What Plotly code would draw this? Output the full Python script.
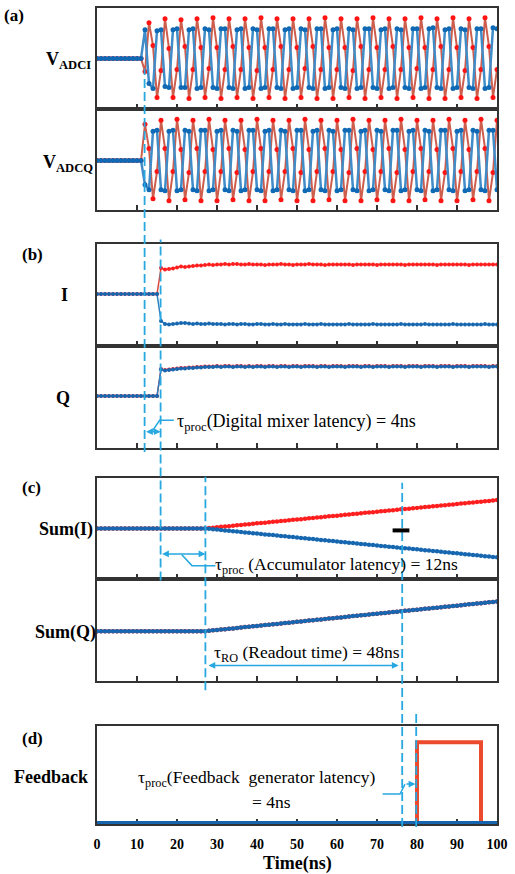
import plotly.graph_objects as go

# ---------------- data (arbitrary units) ----------------
time_ns = list(range(0, 101))

# (a) ADC samples, I channel
adc_i_red = [0] * 12 + [
    -13, 36, 13, -39, -12, 40, 10, -39, -11, 39, 12, -40, -11, 40, 11, -39,
    -10, 41, 11, -40, -11, 40, 12, -39, -11, 40, 11, -40, -12, 41, 11, -39,
    -11, 40, 12, -40, -11, 40, 11, -39, -10, 40, 12, -40, -11, 41, 11, -40,
    -11, 40, 11, -39, -12, 40, 12, -40, -11, 41, 11, -39, -11, 40, 12, -40,
    -11, 40, 11, -39, -10, 41, 11, -40, -11, 40, 12, -40, -11, 41, 11, -39,
    -12, 40, 11, -40, -11, 41, 12, -39, -11]
adc_i_blue = [0] * 12 + [
    29, -25, -30, 28, 29, -28, -29, 29, 30, -29, -29, 29, 30, -30, -29, 30,
    29, -29, -30, 30, 30, -29, -30, 29, 30, -30, -29, 30, 29, -30, -29, 30,
    30, -29, -30, 29, 30, -30, -29, 30, 29, -29, -30, 30, 30, -30, -29, 29,
    30, -29, -30, 30, 29, -30, -29, 30, 30, -29, -30, 29, 30, -30, -29, 30,
    29, -29, -30, 30, 30, -30, -29, 30, 31, -29, -30, 29, 30, -30, -29, 30,
    29, -29, -30, 30, 30, -30, -29, 31, 30]
# (a) ADC samples, Q channel
adc_q_red = [0] * 12 + [
    36, 12, -38, -11, 40, 12, -40, -11, 41, 11, -39, -12, 40, 12, -40, -11,
    41, 11, -40, -11, 40, 12, -39, -12, 40, 11, -40, -11, 41, 12, -40, -11,
    40, 11, -39, -11, 40, 12, -40, -12, 41, 11, -40, -11, 40, 12, -39, -11,
    40, 11, -40, -12, 41, 12, -40, -11, 40, 11, -39, -11, 40, 12, -40, -12,
    41, 11, -40, -11, 40, 12, -39, -11, 40, 11, -40, -12, 41, 12, -40, -11,
    40, 11, -39, -11, 41, 12, -40, -12, 40]
adc_q_blue = [0] * 12 + [
    -24, -29, 29, 30, -29, -30, 29, 30, -30, -29, 30, 29, -29, -30, 30, 30,
    -30, -29, 29, 30, -29, -30, 30, 29, -30, -29, 30, 30, -29, -30, 29, 30,
    -30, -29, 30, 29, -29, -30, 30, 30, -30, -29, 29, 30, -29, -30, 30, 29,
    -30, -29, 30, 30, -29, -30, 29, 30, -30, -29, 30, 29, -29, -30, 30, 30,
    -30, -29, 29, 30, -29, -30, 30, 29, -30, -29, 30, 30, -29, -30, 29, 30,
    -30, -29, 30, 29, -29, -30, 30, 30, -29]

# (b) mixer outputs
mix_i_red = [0] * 16 + [
    26, 24.5, 25, 25.5, 26.5, 27.5, 27, 27.5, 28, 28.5, 28.5, 29, 29.5, 29, 29.5,
    29.5, 30, 29.5, 30, 30, 29.5, 29.5, 30, 29.5, 29.5,
    29.5, 29, 29.5, 29.5, 29.5, 30, 29.5, 29.5, 29, 29.5,
    29.5, 29.5, 30, 29.5, 29.5, 29.5, 29, 29.5, 29.5, 29.5,
    29.5, 29.5, 29.5, 29, 29.5, 29.5, 29.5, 29.5, 29.5, 29,
    29.5, 29.5, 29.5, 29.5, 29.5, 29.5, 29, 29.5, 29.5, 29.5,
    29.5, 29.5, 29.5, 29.5, 29, 29.5, 29.5, 29.5, 29.5, 29.5,
    29.5, 29.5, 29, 29.5, 29.5, 29.5, 29.5, 29.5, 29.5, 29.5]
mix_i_blue = [0] * 16 + [
    -27, -30, -30.5, -30, -29.5, -29, -29, -29.5, -30, -29.5, -30, -30, -29.5, -30, -30,
    -30, -30.5, -30, -30, -30.5, -30, -30, -30.5, -30.5, -30,
    -30, -30.5, -30.5, -30, -30.5, -30.5, -30, -30.5, -30.5, -30.5,
    -30.5, -30, -30.5, -30.5, -30.5, -30, -30.5, -30.5, -30.5, -30.5,
    -30.5, -30.5, -30, -30.5, -30.5, -30.5, -30.5, -30.5, -30, -30.5,
    -30.5, -30.5, -30.5, -30.5, -30.5, -30, -30.5, -30.5, -30.5, -30.5,
    -30.5, -30, -30.5, -30.5, -30.5, -30.5, -30.5, -30.5, -30, -30.5,
    -30.5, -30.5, -30.5, -30.5, -30.5, -30.5, -30, -30.5, -30.5, -30.5]
mix_q_red = [0] * 16 + [
    27, 26, 26.5, 27, 27.5, 28, 28, 28.5, 28.5, 29, 29, 29.5, 29.5, 29.5, 30,
    29.5, 30, 30, 29.5, 30, 30, 29.5, 30, 29.5, 30,
    30, 29.5, 30, 30, 29.5, 30, 30, 29.5, 30, 30,
    29.5, 30, 30, 30, 29.5, 30, 30, 29.5, 30, 30,
    30, 29.5, 30, 30, 30, 29.5, 30, 30, 29.5, 30,
    30, 30, 29.5, 30, 30, 30, 29.5, 30, 30, 30,
    29.5, 30, 30, 30, 29.5, 30, 30, 30, 29.5, 30,
    30, 30, 29.5, 30, 30, 30, 30, 29.5, 30, 30]
mix_q_blue = [0] * 16 + [
    26.5, 25.5, 26, 26.5, 27, 27.5, 27.5, 28, 28, 28.5, 28.5, 29, 29, 29, 29.5,
    29, 29.5, 29.5, 29, 29.5, 29.5, 29, 29.5, 29, 29.5,
    29.5, 29, 29.5, 29.5, 29, 29.5, 29.5, 29, 29.5, 29.5,
    29, 29.5, 29.5, 29.5, 29, 29.5, 29.5, 29, 29.5, 29.5,
    29.5, 29, 29.5, 29.5, 29.5, 29, 29.5, 29.5, 29, 29.5,
    29.5, 29.5, 29, 29.5, 29.5, 29.5, 29, 29.5, 29.5, 29.5,
    29, 29.5, 29.5, 29.5, 29, 29.5, 29.5, 29.5, 29, 29.5,
    29.5, 29.5, 29, 29.5, 29.5, 29.5, 29.5, 29, 29.5, 29.5]

# (c) accumulator outputs
sum_i_red = [0] * 28 + [
    0.4, 0.8, 1.2, 1.6, 1.9, 2.3, 2.7, 3.1, 3.5, 3.9, 4.3, 4.7, 5.1, 5.4, 5.8,
    6.2, 6.6, 7.0, 7.4, 7.8, 8.2, 8.6, 8.9, 9.3, 9.7, 10.1, 10.5, 10.9, 11.3,
    11.7, 12.1, 12.4, 12.8, 13.2, 13.6, 14.0, 14.4, 14.8, 15.2, 15.6, 15.9,
    16.3, 16.7, 17.1, 17.5, 17.9, 18.3, 18.7, 19.1, 19.5, 19.8, 20.2, 20.6,
    21.0, 21.4, 21.8, 22.2, 22.6, 23.0, 23.3, 23.7, 24.1, 24.5, 24.9, 25.3,
    25.7, 26.1, 26.5, 26.8, 27.2, 27.6, 28.0, 28.4]
sum_i_blue = [0] * 28 + [
    -0.4, -0.8, -1.2, -1.6, -2.0, -2.4, -2.8, -3.2, -3.6, -4.0, -4.4, -4.8,
    -5.2, -5.6, -6.0, -6.4, -6.7, -7.1, -7.5, -7.9, -8.3, -8.7, -9.1, -9.5,
    -9.9, -10.3, -10.7, -11.1, -11.5, -11.9, -12.3, -12.7, -13.1, -13.5, -13.9,
    -14.3, -14.7, -15.1, -15.5, -15.9, -16.3, -16.7, -17.1, -17.5, -17.9,
    -18.3, -18.7, -19.1, -19.5, -19.9, -20.2, -20.6, -21.0, -21.4, -21.8,
    -22.2, -22.6, -23.0, -23.4, -23.8, -24.2, -24.6, -25.0, -25.4, -25.8,
    -26.2, -26.6, -27.0, -27.4, -27.8, -28.2, -28.6, -29.0]
sum_q = [0] * 28 + [
    0.4, 0.8, 1.2, 1.6, 2.0, 2.4, 2.8, 3.3, 3.7, 4.1, 4.5, 4.9, 5.3, 5.7, 6.1,
    6.5, 6.9, 7.3, 7.7, 8.1, 8.5, 9.0, 9.4, 9.8, 10.2, 10.6, 11.0, 11.4, 11.8,
    12.2, 12.6, 13.0, 13.4, 13.8, 14.2, 14.7, 15.1, 15.5, 15.9, 16.3, 16.7,
    17.1, 17.5, 17.9, 18.3, 18.7, 19.1, 19.5, 19.9, 20.4, 20.8, 21.2, 21.6,
    22.0, 22.4, 22.8, 23.2, 23.6, 24.0, 24.4, 24.8, 25.2, 25.6, 26.0, 26.5,
    26.9, 27.3, 27.7, 28.1, 28.5, 28.9, 29.3, 29.7]

# (d) feedback pulse
fb_time = [0, 80, 96, 100]
fb_red = [0, 81, 0, 0]
fb_blue = [0, 0, 0, 0]

# event times marked by the dashed guide lines (ns)
event_times = [11.9, 15.9, 27.1, 76.3, 79.8]
tick_vals = [0, 10, 20, 30, 40, 50, 60, 70, 80, 90, 100]
tick_text = ["0", "10", "20", "30", "40", "50", "60", "70", "80", "90", "100"]

# ---------------- layout geometry ----------------
W, H = 515, 874
ML, MR, MT, MB = 97, 18, 6, 50
PW = W - ML - MR
PH = H - MT - MB
FONT = "Liberation Serif, Times New Roman, serif"
GUIDE = "#27A8E1"
BORDER = "#333333"


def py(p):
    return (H - MB - p) / PH


def px(p):
    return (p - ML) / PW


panel_px = [(6, 107.5), (107.5, 208.3), (243, 345), (345, 447),
            (477, 578.5), (578.5, 680.7), (726, 824)]
y_ranges = [[-50.8, 50.7], [-49, 51], [-52.3, 49.7], [-52, 50],
            [-50.8, 50.7], [-50, 52.2], [-1, 97]]


def axn(i):
    return ("x", "y") if i == 1 else ("x%d" % i, "y%d" % i)


fig = go.Figure()

RED_L, RED_M = "#CD5E4E", "#FF1414"
BLUE_L, BLUE_M = "#3F8CC8", "#0F69B4"


def add(i, x, y, lc, mc, lw, ms, mode="lines+markers", shape="linear"):
    xa, ya = axn(i)
    fig.add_trace(go.Scatter(
        x=x, y=y, xaxis=xa, yaxis=ya, mode=mode,
        line=dict(color=lc, width=lw, shape=shape),
        marker=dict(color=mc, size=ms), showlegend=False, hoverinfo="skip"))


add(1, time_ns, adc_i_red, RED_L, RED_M, 2, 5)
add(1, time_ns, adc_i_blue, BLUE_L, BLUE_M, 2.5, 5)
add(2, time_ns, adc_q_red, RED_L, RED_M, 2, 5)
add(2, time_ns, adc_q_blue, BLUE_L, BLUE_M, 2.5, 5)
add(3, time_ns, mix_i_red, "#E0463A", "#FF1E1E", 1.5, 4)
add(3, time_ns, mix_i_blue, "#2F7DC0", "#1667B0", 1.5, 4)
add(4, time_ns, mix_q_red, "#E0463A", "#FF1E1E", 1.5, 4)
add(4, time_ns, mix_q_blue, "#2F7DC0", "#1667B0", 1.5, 4)
add(5, time_ns, sum_i_red, "#F02020", "#FF1E1E", 2, 4.5)
add(5, time_ns, sum_i_blue, "#2F7DC0", "#1667B0", 2, 4.5)
add(6, time_ns, sum_q, "#E0463A", "#FF1E1E", 2, 4.5)
add(6, time_ns, sum_q, "#2F7DC0", "#1667B0", 2, 4.5)
add(7, fb_time, fb_red, "#EC4A2C", "#EC4A2C", 4, 0, mode="lines", shape="hv")
add(7, fb_time, fb_blue, "#1663AE", "#1663AE", 4, 0, mode="lines", shape="hv")

layout = dict(
    width=W, height=H, margin=dict(l=ML, r=MR, t=MT, b=MB),
    paper_bgcolor="white", plot_bgcolor="white", showlegend=False,
    font=dict(family=FONT, color="black"),
)
for i in range(1, 8):
    top, bot = panel_px[i - 1]
    xa, ya = axn(i)
    sx = "" if i == 1 else str(i)
    layout["xaxis" + sx] = dict(
        domain=[0, 1], anchor=ya, range=[0, 100], showline=True, mirror=True,
        linecolor=BORDER, linewidth=2, ticks="inside", ticklen=5, tickwidth=1.5,
        tickcolor=BORDER, tickvals=tick_vals, ticktext=tick_text,
        showticklabels=(i == 7), showgrid=False, zeroline=False,
        ticklabelstandoff=6,
        tickfont=dict(family=FONT, size=14, color="black", weight="bold"),
        layer="below traces" if i == 7 else "above traces", fixedrange=True)
    layout["yaxis" + sx] = dict(
        domain=[py(bot), py(top)], anchor=xa, range=y_ranges[i - 1],
        showline=True, mirror=True, linecolor=BORDER, linewidth=2,
        ticks="", showticklabels=False, showgrid=False, zeroline=False,
        layer="below traces" if i == 7 else "above traces", fixedrange=True)
fig.update_layout(**layout)

# dashed guide lines
guide_span = [(67, 451), (238, 580), (476, 690), (482, 827), (712, 827)]
for tx, (y0, y1) in zip(event_times, guide_span):
    fig.add_shape(type="line", xref="x", yref="paper", x0=tx, x1=tx,
                  y0=py(y1), y1=py(y0),
                  line=dict(color=GUIDE, width=1.8, dash="9px,4px"))

# leader lines
fig.add_shape(type="path", xref="x4", yref="y4",
              path="M 13.75,-35.7 L 15.65,-24.3 L 19.2,-24.3",
              line=dict(color=GUIDE, width=1.5))
fig.add_shape(type="path", xref="x5", yref="y5",
              path="M 21.2,-26.3 L 23.75,-37.3 L 29.6,-37.3",
              line=dict(color=GUIDE, width=1.5))
fig.add_shape(type="path", xref="x7", yref="y7",
              path="M 71.4,29 L 75.75,29 L 77,39",
              line=dict(color=GUIDE, width=1.5))
# small black cursor mark in Sum(I)
fig.add_shape(type="line", xref="x5", yref="y5", x0=73.9, x1=78.1, y0=-2, y1=-2,
              line=dict(color="black", width=4))


def arrow(i, x0, x1, y, both=True):
    xa, ya = axn(i)
    fig.add_annotation(x=x1, y=y, ax=x0, ay=y, xref=xa, yref=ya, axref=xa, ayref=ya,
                       text="", showarrow=True, arrowhead=2, arrowsize=0.9,
                       arrowwidth=1.5, arrowcolor=GUIDE,
                       arrowside="end+start" if both else "end",
                       standoff=0, startstandoff=0)


arrow(4, 11.9, 15.9, -35.7)
arrow(5, 15.9, 27.1, -25.6)
arrow(6, 27.5, 75.4, -34.3)
arrow(7, 77, 79.6, 39, both=False)


def note(i, x, y, text, anchor="left", size=17.5):
    xa, ya = axn(i)
    fig.add_annotation(x=x, y=y, xref=xa, yref=ya, text=text, showarrow=False,
                       xanchor=anchor, yanchor="middle",
                       font=dict(family=FONT, size=size, color="black"))


note(4, 19.4, -26.7, "τ<sub>proc</sub>(Digital mixer latency) = 4ns", size=18)
note(5, 29.0, -37.3, "τ<sub>proc</sub> (Accumulator latency) = 12ns")
note(6, 52.6, -22.3, "τ<sub>RO</sub> (Readout time) = 48ns", anchor="center")
note(7, 39.9, 45, "τ<sub>proc</sub>(Feedback \u00a0generator latency)", anchor="center")
note(7, 43.6, 21, "= 4ns", anchor="center")

# left-hand labels
labels = [
    ("(a)", 13.5, 14, 17), ("V<sub>ADCI</sub>", 68, 59, 18), ("V<sub>ADCQ</sub>", 68, 162, 18),
    ("(b)", 32.5, 253, 17), ("I", 64.3, 293.3, 18), ("Q", 63.3, 396.7, 18),
    ("(c)", 31.7, 487, 17), ("Sum(I)", 65.8, 528.3, 18), ("Sum(Q)", 65.8, 631.7, 18),
    ("(d)", 32.5, 738, 17), ("Feedback", 50.8, 777.3, 18),
]
for txt, cx, cy, sz in labels:
    fig.add_annotation(x=px(cx), y=py(cy), xref="paper", yref="paper",
                       text="<b>" + txt + "</b>", showarrow=False,
                       xanchor="center", yanchor="middle",
                       font=dict(family=FONT, size=sz, color="black"))

fig.add_annotation(x=px(297.5), y=py(863.3), xref="paper", yref="paper",
                   text="<b>Time(ns)</b>", showarrow=False, xanchor="center",
                   yanchor="middle", font=dict(family=FONT, size=18, color="black"))

fig.write_html("out.html",
               config={"displayModeBar": False, "staticPlot": True},
               post_script="document.body.style.margin='0px';"
                           "document.body.style.overflow='hidden';")
